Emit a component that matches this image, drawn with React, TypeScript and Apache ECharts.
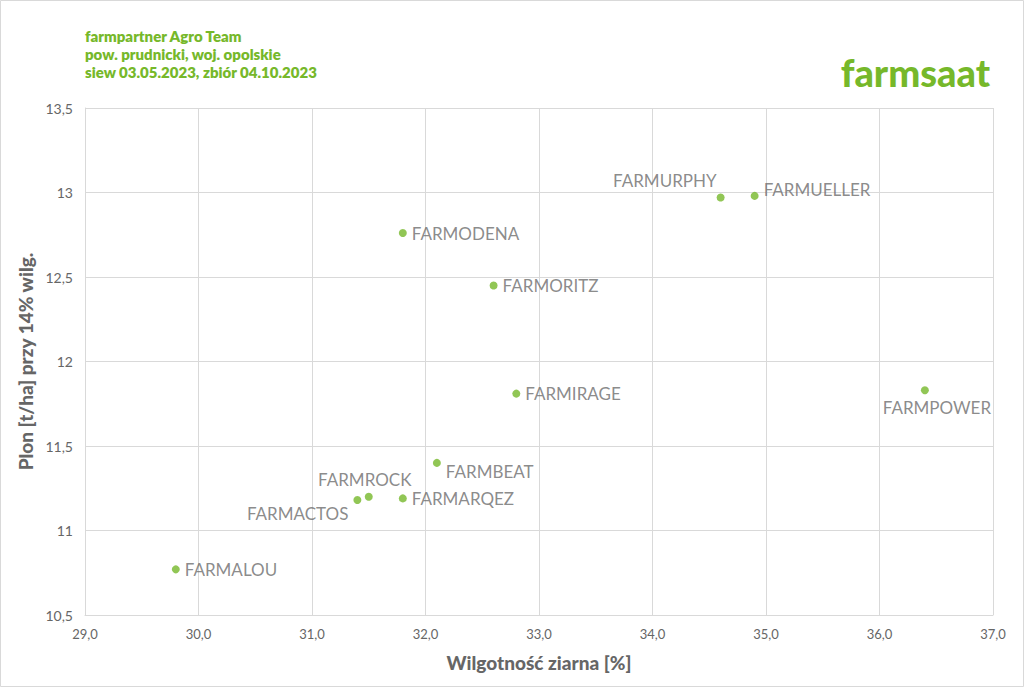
import React, { useEffect, useRef } from "react";
import * as echarts from "echarts";

const varieties = ["FARMALOU", "FARMACTOS", "FARMROCK", "FARMARQEZ", "FARMBEAT", "FARMIRAGE", "FARMORITZ", "FARMODENA", "FARMURPHY", "FARMUELLER", "FARMPOWER"];
const moisture = [29.8, 31.4, 31.5, 31.8, 32.1, 32.8, 32.6, 31.8, 34.6, 34.9, 36.4];
const yieldT = [10.77, 11.18, 11.2, 11.19, 11.4, 11.81, 12.45, 12.76, 12.97, 12.98, 11.83];
const titleLines = ["farmpartner Agro Team", "pow. prudnicki, woj. opolskie", "siew 03.05.2023, zbiór 04.10.2023"];

const labelPlacement: Record<string, { position: string; offset: [number, number] }> = {
  FARMURPHY: { position: "left", offset: [5, -17] },
  FARMACTOS: { position: "left", offset: [0, 13] },
  FARMROCK: { position: "top", offset: [-4, 0] },
  FARMBEAT: { position: "right", offset: [0, 9] },
  FARMPOWER: { position: "bottom", offset: [12, 0] },
  FARMUELLER: { position: "right", offset: [0, -6] },
};

const GREEN = "#76b82a";
const FONT = "Lato, 'Open Sans', sans-serif";

export default function App() {
  const ref = useRef<HTMLDivElement>(null);
  useEffect(() => {
    const chart = echarts.init(ref.current!, null, { renderer: "svg" });
    const data = varieties.map((n, i) => {
      const p = labelPlacement[n] || { position: "right", offset: [0, 0] };
      return {
        name: n,
        value: [moisture[i], yieldT[i]],
        label: { position: p.position, offset: p.offset },
      };
    });
    chart.setOption({
      animation: false,
      backgroundColor: "#ffffff",
      textStyle: { fontFamily: FONT },
      graphic: [
        {
          type: "rect",
          shape: { x: 0.5, y: 0.5, width: 1023, height: 686 },
          style: { fill: "none", stroke: "#d9d9d9", lineWidth: 1 },
          silent: true,
        },
        ...titleLines.map((t, i) => ({
          type: "text",
          left: 85,
          top: 28 + i * 18,
          style: { text: t, fill: GREEN, font: `800 15px ${FONT}` },
        })),
        {
          type: "text",
          right: 34,
          top: 53,
          style: { text: "farmsaat", fill: GREEN, font: `900 38px ${FONT}` },
        },
      ],
      grid: { left: 85, right: 31, top: 108, bottom: 72, containLabel: false },
      xAxis: {
        type: "value",
        min: 29,
        max: 37,
        interval: 1,
        name: "Wilgotność ziarna [%]",
        nameLocation: "middle",
        nameGap: 38,
        nameTextStyle: { color: "#666666", fontWeight: 900, fontSize: 19, fontFamily: FONT },
        axisLine: { show: true, lineStyle: { color: "#d9d9d9" } },
        axisTick: { show: false },
        axisLabel: {
          color: "#666666",
          fontSize: 13,
          margin: 12,
          formatter: (v: number) => v.toFixed(1).replace(".", ","),
        },
        splitLine: { show: true, lineStyle: { color: "#d9d9d9" } },
      },
      yAxis: {
        type: "value",
        min: 10.5,
        max: 13.5,
        interval: 0.5,
        name: "Plon [t/ha] przy 14% wilg.",
        nameLocation: "middle",
        nameGap: 47,
        nameTextStyle: { color: "#666666", fontWeight: 900, fontSize: 19, fontFamily: FONT },
        axisLine: { show: true, lineStyle: { color: "#d9d9d9" } },
        axisTick: { show: false },
        axisLabel: {
          color: "#666666",
          fontSize: 14,
          margin: 12,
          formatter: (v: number) => String(v).replace(".", ","),
        },
        splitLine: { show: true, lineStyle: { color: "#d9d9d9" } },
      },
      series: [
        {
          type: "scatter",
          symbol: "circle",
          symbolSize: 8,
          itemStyle: { color: GREEN },
          data,
          label: {
            show: true,
            formatter: (p: any) => p.name,
            color: "#6d6d6d",
            fontSize: 17,
            fontFamily: FONT,
            distance: 5,
          },
        },
      ],
    });
    return () => chart.dispose();
  }, []);
  return (
    <div
      ref={ref}
      style={{ position: "absolute", left: 0, top: 0, width: 1024, height: 687 }}
    />
  );
}
